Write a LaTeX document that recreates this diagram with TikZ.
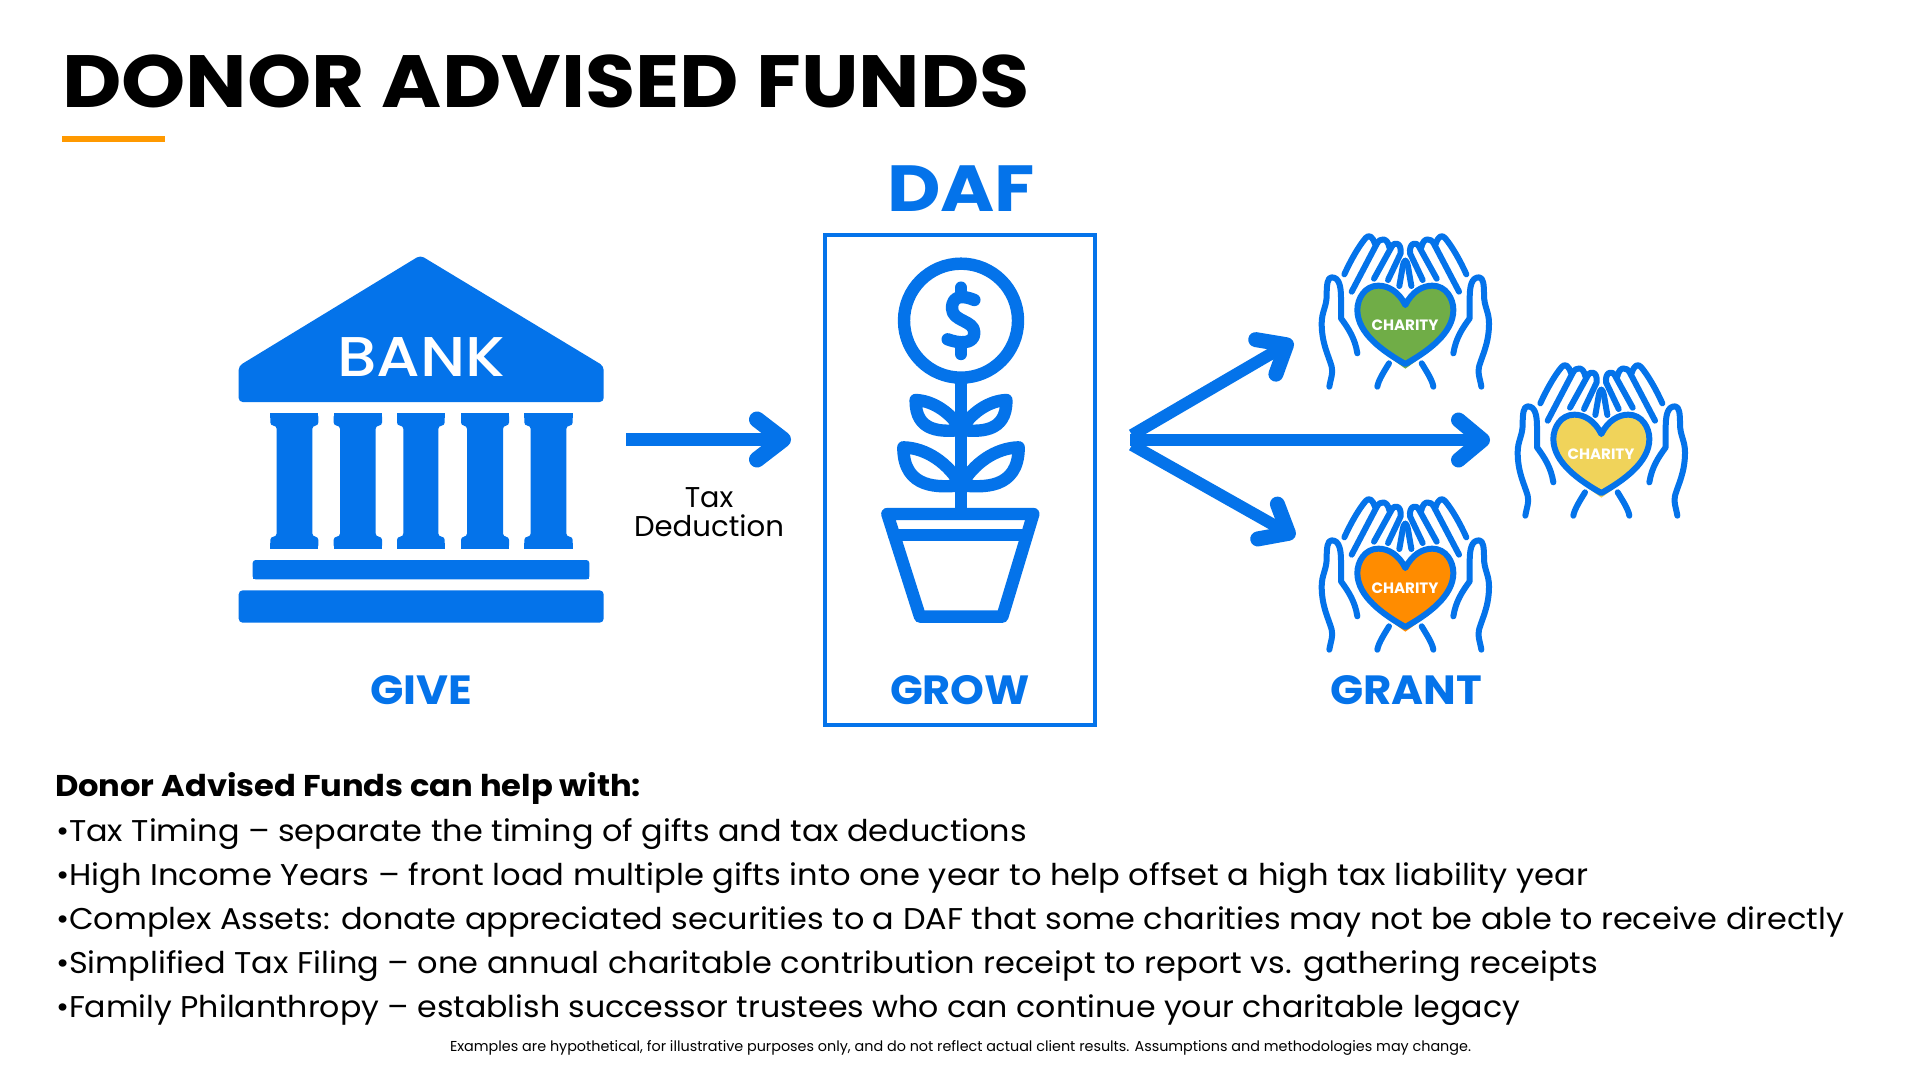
\documentclass[tikz,border=0pt]{standalone}
\usepackage{fontspec}
\usetikzlibrary{arrows.meta}
\setmainfont{Poppins}
\newfontfamily\pmedium{Poppins Medium}
\definecolor{dafblue}{HTML}{0473EA}
\definecolor{dorange}{HTML}{FF9900}
\definecolor{cgreen}{HTML}{70AD47}
\definecolor{cyellow}{HTML}{F0D35A}
\definecolor{corange}{HTML}{FF8C00}
\newcommand{\fs}[1]{\fontsize{#1}{#1}\selectfont}
\newcommand{\fitpx}[2]{\setlength{\dimen0}{#1pt}\resizebox{0.5\dimen0}{\height}{#2}}
\tikzset{
  txt/.style={inner sep=0pt,outer sep=0pt,anchor=base west,text=black},
  head/.style={inner sep=0pt,anchor=base,text=dafblue,font=\bfseries},
  flow/.style={draw=dafblue,line width=6.6pt,-{Straight Barb[round,line width=8pt,length=13pt,width=20pt]}},
  flowthin/.style={draw=dafblue,line width=6pt,-{Straight Barb[round,line width=7.5pt,length=12pt,width=20pt]}},
  hand/.style={draw=dafblue,line width=3pt,line cap=round,line join=round},
  plant/.style={draw=dafblue,line width=6.2pt,line cap=round,line join=round},
}
% half of the cupped hands, in zoom units
\newcommand{\handhalf}{
  \draw[hand] (88,500) .. controls (92,475) and (100,460) .. (95,440)
     .. controls (85,405) and (65,370) .. (65,310)
     .. controls (65,275) and (80,260) .. (80,225)
     .. controls (80,195) and (82,172) .. (95,172)
     .. controls (118,172) and (123,200) .. (123,235) -- (123,295)
     .. controls (145,325) and (165,355) .. (172,400);
  \draw[hand] (133,163) .. controls (150,125) and (175,80) .. (197,54)
     .. controls (207,42) and (218,50) .. (225,72);
  \draw[hand] (155,215) -- (230,72) .. controls (240,52) and (262,52) .. (268,82);
  \draw[hand] (222,176) -- (275,80) .. controls (285,62) and (305,70) .. (302,100) -- (264,180);
  \draw[hand] (298,198) -- (308,140) .. controls (310,128) and (314,122) .. (316,122);
  \draw[hand] (232,500) .. controls (235,480) and (255,450) .. (267,430);
}
\newcommand{\charityicon}[4]{% name, x, y, colour
  \begin{scope}[shift={(#2,#3)},x=0.16667pt,y=-0.16667pt]
    \handhalf
    \begin{scope}[shift={(632,0)},xscale=-1]\handhalf\end{scope}
    \fill[#4] (316,252) .. controls (296,212) and (265,197) .. (235,197)
       .. controls (195,197) and (172,235) .. (172,270)
       .. controls (172,340) and (250,400) .. (316,446)
       .. controls (382,400) and (460,340) .. (460,270)
       .. controls (460,235) and (437,197) .. (397,197)
       .. controls (367,197) and (336,212) .. (316,252) -- cycle;
    \draw[hand] (316,255) .. controls (296,215) and (265,197) .. (235,197)
       .. controls (195,197) and (172,235) .. (172,270)
       .. controls (172,340) and (250,395) .. (316,432)
       .. controls (382,395) and (460,340) .. (460,270)
       .. controls (460,235) and (437,197) .. (397,197)
       .. controls (367,197) and (336,215) .. (316,255) -- cycle;
    \node[inner sep=0pt,text=white,font=\bfseries\fs{7.5}] (#1) at (315,315) {\fitpx{67}{CHARITY}};
  \end{scope}}
\newcommand{\column}[4]{%
  \fill[dafblue,rounded corners=1.6pt] (#1,520) -- (#2,520) -- (#2,557) -- (#4,557) -- (#4,890)
     -- (#2,890) -- (#2,926) -- (#1,926) -- (#1,890) -- (#3,890) -- (#3,557) -- (#1,557) -- cycle;
  \fill[dafblue] (#1,520) rectangle (#2,535);
  \fill[dafblue] (#1,910) rectangle (#2,926);}
\begin{document}
\begin{tikzpicture}[x=0.5pt,y=-0.5pt]
\useasboundingbox (0,0) rectangle (1920,1080);
\fill[white] (0,0) rectangle (1920,1080);
% title
\node[txt,font=\bfseries\fs{37}] (title) at (62,108) {\fitpx{968}{DONOR ADVISED FUNDS}};
\fill[dorange] (62,136) rectangle (165,142);
\node[head,font=\bfseries\fs{32.6}] (daf) at (961,212) {\fitpx{148}{DAF}};
% bank
\begin{scope}[shift={(220,240)},x=0.16667pt,y=-0.16667pt]
  \fill[dafblue,rounded corners=2pt] (601,46) -- (1151,378) -- (1151,486) -- (56,486) -- (56,378) -- cycle;
  \column{151}{295}{170}{277}
  \column{341}{486}{360}{467}
  \column{531}{674}{550}{655}
  \column{723}{867}{741}{849}
  \column{913}{1058}{932}{1039}
  \fill[dafblue,rounded corners=1.5pt] (98,1018) -- (98,960) -- (1108,960) -- (1108,1018) -- cycle;
  \fill[dafblue] (98,1005) rectangle (1108,1018);
  \fill[dafblue,rounded corners=2pt] (56,1051) rectangle (1151,1148);
  \node[inner sep=0pt,anchor=base,text=white,font=\pmedium\fs{28}] (bank) at (603,410) {\fitpx{168}{BANK}};
\end{scope}
\node[head,font=\bfseries\fs{20.4}] (give) at (421,704) {\fitpx{102}{GIVE}};
% DAF box
\node[draw=dafblue,line width=2pt,inner sep=0pt,minimum width=135pt,minimum height=245pt] (box) at (960,480) {};
\node[head,font=\bfseries\fs{20.4}] (grow) at (960,704) {\fitpx{140}{GROW}};
% plant
\begin{scope}[shift={(820,220)},x=0.16667pt,y=-0.16667pt]
  \draw[plant] (423,302) circle (171);
  \draw[plant] (423,490) -- (423,870);
  \draw[plant] (423,203) -- (423,228);
  \draw[plant] (423,378) -- (423,402);
  \draw[plant] (463,240) .. controls (435,228) and (396,222) .. (396,265)
     .. controls (396,305) and (463,300) .. (463,338)
     .. controls (463,375) and (415,370) .. (383,358);
  \draw[plant] (287,540) .. controls (340,542) and (395,580) .. (423,630)
     .. controls (370,635) and (285,640) .. (287,540) -- cycle;
  \draw[plant] (559,540) .. controls (506,542) and (451,580) .. (423,630)
     .. controls (476,635) and (561,640) .. (559,540) -- cycle;
  \draw[plant] (250,682) .. controls (320,684) and (385,730) .. (423,796)
     .. controls (360,802) and (250,810) .. (250,682) -- cycle;
  \draw[plant] (596,682) .. controls (526,684) and (461,730) .. (423,796)
     .. controls (486,802) and (596,810) .. (596,682) -- cycle;
  \draw[plant] (202,882) -- (640,882) -- (547,1190) -- (300,1190) -- cycle;
  \draw[plant] (222,945) -- (620,945);
\end{scope}
% charities
\charityicon{charA}{1300}{220}{cgreen}
\charityicon{charB}{1496}{349}{cyellow}
\charityicon{charC}{1300}{483}{corange}
\node[head,font=\bfseries\fs{20.4}] (grant) at (1406,704) {\fitpx{152}{GRANT}};
% connectors
\coordinate (taxa) at (626,439.5);
\coordinate (taxb) at (791,439.5);
\draw[flow] (taxa) -- (taxb);
\node[inner sep=0pt,anchor=base,font=\fs{14.3}] (taxl) at (709,507.5) {Tax};
\node[inner sep=0pt,anchor=base,font=\fs{14.3}] (dedl) at (709,536.7) {\fitpx{150}{Deduction}};
\coordinate (fan) at (1130,440);
\coordinate (fanu) at (1132,435);
\coordinate (fand) at (1132,445);
\coordinate (endA) at (1293,341);
\coordinate (endB) at (1490,440);
\coordinate (endC) at (1295,537);
\draw[flowthin] (fan) -- (endB);
\draw[flowthin] (fanu) -- (endA);
\draw[flowthin] (fand) -- (endC);
% body
\node[txt,font=\bfseries\fs{15}] (b0) at (55,796) {\fitpx{586}{Donor Advised Funds can help with:}};
\node[txt,font=\fs{15}] (b1) at (56,841) {\fitpx{971}{•Tax Timing – separate the timing of gifts and tax deductions}};
\node[txt,font=\fs{15}] (b2) at (56,885) {\fitpx{1532}{•High Income Years – front load multiple gifts into one year to help offset a high tax liability year}};
\node[txt,font=\fs{15}] (b3) at (56,929) {\fitpx{1788}{•Complex Assets: donate appreciated securities to a DAF that some charities may not be able to receive directly}};
\node[txt,font=\fs{15}] (b4) at (56,973) {\fitpx{1542}{•Simplified Tax Filing – one annual charitable contribution receipt to report vs. gathering receipts}};
\node[txt,font=\fs{15}] (b5) at (56,1017) {\fitpx{1464}{•Family Philanthropy – establish successor trustees who can continue your charitable legacy}};
\node[txt,font=\fs{7.2}] (foot) at (450,1051) {\fitpx{1021}{Examples are hypothetical, for illustrative purposes only, and do not reflect actual client results. Assumptions and methodologies may change.}};
\end{tikzpicture}
\end{document}
